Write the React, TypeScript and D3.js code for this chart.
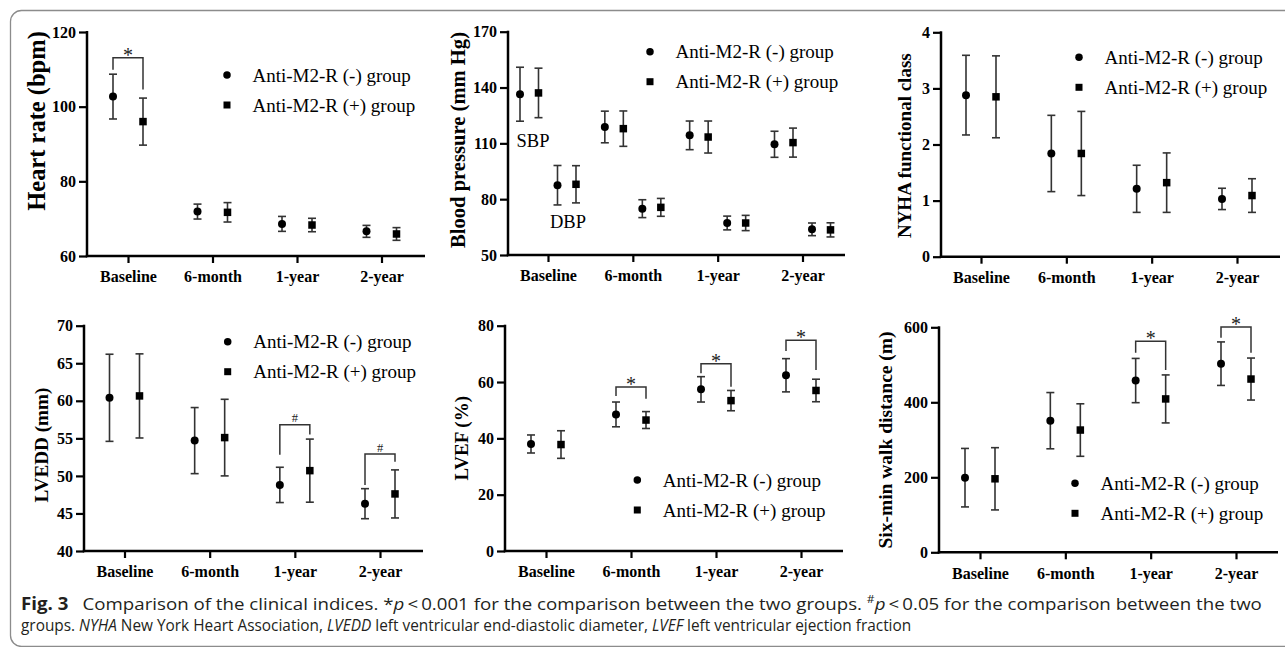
import React, { useEffect, useRef } from 'react'
import * as d3 from 'd3'

const categories = ['Baseline', '6-month', '1-year', '2-year']
const groupNames = ['Anti-M2-R (-) group', 'Anti-M2-R (+) group']

// heart rate (bpm)
const hrNeg = [102.7, 71.9, 68.6, 66.6]
const hrNegSd = [6.0, 2.0, 2.0, 1.6]
const hrPos = [96.0, 71.7, 68.3, 65.9]
const hrPosSd = [6.3, 2.6, 1.8, 1.7]
const hrTicks = [60, 80, 100, 120]

// blood pressure (mm Hg)
const sbpNeg = [136.4, 118.8, 114.3, 109.5]
const sbpNegSd = [14.5, 8.5, 7.7, 7.0]
const sbpPos = [137.1, 117.9, 113.4, 110.4]
const sbpPosSd = [13.3, 9.5, 8.6, 7.8]
const dbpNeg = [87.5, 74.9, 67.2, 63.8]
const dbpNegSd = [10.6, 4.8, 3.7, 3.4]
const dbpPos = [88.0, 75.6, 67.2, 63.5]
const dbpPosSd = [10.0, 4.8, 4.1, 3.8]
const bpTicks = [50, 80, 110, 140, 170]

// NYHA class
const nyhaNeg = [2.88, 1.84, 1.21, 1.03]
const nyhaNegSd = [0.71, 0.68, 0.42, 0.19]
const nyhaPos = [2.85, 1.84, 1.32, 1.09]
const nyhaPosSd = [0.73, 0.75, 0.53, 0.3]
const nyhaTicks = [0, 1, 2, 3, 4]

// LVEDD (mm)
const lveddNeg = [60.4, 54.7, 48.8, 46.3]
const lveddNegSd = [5.8, 4.4, 2.35, 2.0]
const lveddPos = [60.65, 55.1, 50.7, 47.6]
const lveddPosSd = [5.6, 5.1, 4.2, 3.2]
const lveddTicks = [40, 45, 50, 55, 60, 65, 70]

// LVEF (%)
const lvefNeg = [38.0, 48.5, 57.4, 62.4]
const lvefNegSd = [3.2, 4.4, 4.5, 5.9]
const lvefPos = [37.8, 46.5, 53.4, 57.0]
const lvefPosSd = [4.9, 3.0, 3.6, 4.0]
const lvefTicks = [0, 20, 40, 60, 80]

// six-min walk distance (m)
const walkNeg = [199, 351, 458, 503]
const walkNegSd = [78, 75, 59, 58]
const walkPos = [196, 326, 409, 462]
const walkPosSd = [83, 70, 64, 56]
const walkTicks = [0, 200, 400, 600]

// significance brackets: level of bar, end of left leg, end of right leg
const hrMarks = [{ cat: 'Baseline', sign: '*', level: 113.1, left: 109.9, right: 104.6 }]
const lveddMarks = [
  { cat: '1-year', sign: '#', level: 56.8, left: 52.8, right: 55.5 },
  { cat: '2-year', sign: '#', level: 52.9, left: 48.8, right: 51.9 },
]
const lvefMarks = [
  { cat: '6-month', sign: '*', level: 58.2, left: 55.0, right: 54.1 },
  { cat: '1-year', sign: '*', level: 66.5, left: 63.1, right: 58.3 },
  { cat: '2-year', sign: '*', level: 74.8, left: 71.0, right: 64.3 },
]
const walkMarks = [
  { cat: '1-year', sign: '*', level: 563, left: 532, right: 486 },
  { cat: '2-year', sign: '*', level: 601, left: 572, right: 532 },
]

const SERIF = '"Liberation Serif", "Times New Roman", serif'

const panels = [
  {
    title: 'Heart rate (bpm)', ticks: hrTicks, marks: hrMarks,
    series: [
      { mean: hrNeg, sd: hrNegSd, shape: 'circle', dx: -15 },
      { mean: hrPos, sd: hrPosSd, shape: 'square', dx: 15 },
    ],
    box: { left: 87, right: 425, top: 32, bottom: 256, first: 128, last: 381.5 },
    titleAt: [36, 121, 24.5], legendAt: [227, 75],
  },
  {
    title: 'Blood pressure (mm Hg)', ticks: bpTicks, marks: [],
    series: [
      { mean: sbpNeg, sd: sbpNegSd, shape: 'circle', dx: -28 },
      { mean: sbpPos, sd: sbpPosSd, shape: 'square', dx: -9.5 },
      { mean: dbpNeg, sd: dbpNegSd, shape: 'circle', dx: 9.5 },
      { mean: dbpPos, sd: dbpPosSd, shape: 'square', dx: 28 },
    ],
    box: { left: 508, right: 845, top: 31.7, bottom: 255, first: 548, last: 802.5 },
    titleAt: [458, 140, 20.6], legendAt: [650, 51.7],
    notes: [
      { text: 'SBP', x: 516.5, y: 146.7 },
      { text: 'DBP', x: 550, y: 228.3 },
    ],
  },
  {
    title: 'NYHA functional class', ticks: nyhaTicks, marks: [],
    series: [
      { mean: nyhaNeg, sd: nyhaNegSd, shape: 'circle', dx: -15 },
      { mean: nyhaPos, sd: nyhaPosSd, shape: 'square', dx: 15 },
    ],
    box: { left: 941, right: 1280, top: 32.3, bottom: 256.7, first: 981, last: 1237 },
    titleAt: [904, 145.7, 19], legendAt: [1079, 57.3],
  },
  {
    title: 'LVEDD (mm)', ticks: lveddTicks, marks: lveddMarks,
    series: [
      { mean: lveddNeg, sd: lveddNegSd, shape: 'circle', dx: -15 },
      { mean: lveddPos, sd: lveddPosSd, shape: 'square', dx: 15 },
    ],
    box: { left: 84, right: 423, top: 325.7, bottom: 551, first: 124.5, last: 380 },
    titleAt: [41.5, 445, 19.2], legendAt: [227.7, 341.7],
  },
  {
    title: 'LVEF (%)', ticks: lvefTicks, marks: lvefMarks,
    series: [
      { mean: lvefNeg, sd: lvefNegSd, shape: 'circle', dx: -15 },
      { mean: lvefPos, sd: lvefPosSd, shape: 'square', dx: 15 },
    ],
    box: { left: 505, right: 843, top: 325.7, bottom: 551, first: 546, last: 801 },
    titleAt: [461.5, 438.3, 19], legendAt: [637.3, 480],
  },
  {
    title: 'Six-min walk distance (m)', ticks: walkTicks, marks: walkMarks,
    series: [
      { mean: walkNeg, sd: walkNegSd, shape: 'circle', dx: -15 },
      { mean: walkPos, sd: walkPosSd, shape: 'square', dx: 15 },
    ],
    box: { left: 939, right: 1278, top: 327.3, bottom: 552.3, first: 980, last: 1236 },
    titleAt: [885.5, 440, 19.5], legendAt: [1075, 483.3],
  },
]

function drawMarker(g, shape, cx, cy, size) {
  if (shape === 'circle') {
    g.append('circle').attr('cx', cx).attr('cy', cy).attr('r', size / 2).attr('fill', '#000')
  } else {
    g.append('rect')
      .attr('x', cx - size / 2)
      .attr('y', cy - size / 2)
      .attr('width', size)
      .attr('height', size)
      .attr('fill', '#000')
  }
}

function drawPanel(svg, p) {
  const { box } = p
  const y = d3
    .scaleLinear()
    .domain([p.ticks[0], p.ticks[p.ticks.length - 1]])
    .range([box.bottom, box.top])
  const x = d3.scalePoint().domain(categories).range([box.first, box.last])
  const g = svg.append('g')

  // y axis ticks + labels
  const ya = g
    .append('g')
    .attr('transform', `translate(${box.left},0)`)
    .call(
      d3.axisLeft(y).tickValues(p.ticks).tickFormat(d3.format('d')).tickSize(8).tickPadding(3).tickSizeOuter(0)
    )
  ya.select('.domain').remove()
  ya.attr('font-family', SERIF).attr('font-size', 16).attr('font-weight', 'bold')
  ya.selectAll('line').attr('stroke', '#000').attr('stroke-width', 2.2)

  // x axis ticks + labels
  const xa = g
    .append('g')
    .attr('transform', `translate(0,${box.bottom})`)
    .call(d3.axisBottom(x).tickSize(7).tickPadding(8).tickSizeOuter(0))
  xa.select('.domain').remove()
  xa.attr('font-family', SERIF).attr('font-size', 16).attr('font-weight', 'bold')
  xa.selectAll('line').attr('stroke', '#000').attr('stroke-width', 2.2)

  // axis lines
  g.append('line')
    .attr('x1', box.left).attr('x2', box.left)
    .attr('y1', box.top - 1).attr('y2', box.bottom + 1.2)
    .attr('stroke', '#000').attr('stroke-width', 2.5)
  g.append('line')
    .attr('x1', box.left - 1.2).attr('x2', box.right)
    .attr('y1', box.bottom).attr('y2', box.bottom)
    .attr('stroke', '#000').attr('stroke-width', 2.5)

  // axis title
  const [tx, ty, ts] = p.titleAt
  g.append('text')
    .attr('transform', `translate(${tx},${ty}) rotate(-90)`)
    .attr('text-anchor', 'middle')
    .attr('dominant-baseline', 'central')
    .attr('font-family', SERIF)
    .attr('font-weight', 'bold')
    .attr('font-size', ts)
    .text(p.title)

  // error bars and points
  p.series.forEach((s) => {
    categories.forEach((c, i) => {
      const cx = x(c) + s.dx
      const hi = y(s.mean[i] + s.sd[i])
      const lo = y(s.mean[i] - s.sd[i])
      g.append('line')
        .attr('x1', cx).attr('x2', cx).attr('y1', hi).attr('y2', lo)
        .attr('stroke', '#333').attr('stroke-width', 1.6)
      ;[hi, lo].forEach((yy) => {
        g.append('line')
          .attr('x1', cx - 4).attr('x2', cx + 4).attr('y1', yy).attr('y2', yy)
          .attr('stroke', '#333').attr('stroke-width', 1.6)
      })
      drawMarker(g, s.shape, cx, y(s.mean[i]), s.shape === 'circle' ? 8 : 7.5)
    })
  })

  // significance brackets
  p.marks.forEach((m) => {
    const xl = x(m.cat) - 15
    const xr = x(m.cat) + 15
    const yl = y(m.level)
    g.append('path')
      .attr('d', `M${xl},${y(m.left)}V${yl}H${xr}V${y(m.right)}`)
      .attr('fill', 'none')
      .attr('stroke', '#333')
      .attr('stroke-width', 1.5)
    g.append('text')
      .attr('x', (xl + xr) / 2)
      .attr('y', m.sign === '*' ? yl + 4 : yl - 2.5)
      .attr('text-anchor', 'middle')
      .attr('font-family', SERIF)
      .attr('font-size', m.sign === '*' ? 20 : 12.5)
      .attr('fill', '#222')
      .text(m.sign)
  })

  // legend
  const [lx, ly] = p.legendAt
  groupNames.forEach((name, i) => {
    drawMarker(g, i === 0 ? 'circle' : 'square', lx, ly + i * 30, i === 0 ? 7.5 : 7)
    g.append('text')
      .attr('x', lx + 25.5)
      .attr('y', ly + i * 30)
      .attr('dominant-baseline', 'central')
      .attr('font-family', SERIF)
      .attr('font-size', 19)
      .text(name)
  })

  ;(p.notes || []).forEach((n) => {
    g.append('text')
      .attr('x', n.x).attr('y', n.y)
      .attr('font-family', SERIF)
      .attr('font-size', 18.5)
      .text(n.text)
  })
}

// squeeze a caption line horizontally so it spans the same width as the print
function fitLine(sel, x, y, width) {
  const len = sel.node().getComputedTextLength()
  sel.attr('transform', `translate(${x},${y}) scale(${width / len},1)`)
}

function drawCaption(svg) {
  const font = '"Open Sans", "Noto Sans", sans-serif'
  const l1 = svg
    .append('text')
    .attr('font-family', font)
    .attr('font-size', 17)
    .attr('fill', '#231f20')
  l1.append('tspan').attr('font-weight', 'bold').text('Fig. 3')
  l1.append('tspan').text('\u2002 Comparison of the clinical indices. *')
  l1.append('tspan').attr('font-style', 'italic').text('p')
  l1.append('tspan').text('\u2009<\u20090.001 for the comparison between the two groups. ')
  l1.append('tspan').attr('font-size', 11).attr('baseline-shift', 'super').text('#')
  l1.append('tspan').attr('font-style', 'italic').text('p')
  l1.append('tspan').text('\u2009<\u20090.05 for the comparison between the two')
  fitLine(l1, 21, 609.5, 1241)

  const l2 = svg
    .append('text')
    .attr('font-family', font)
    .attr('font-size', 17)
    .attr('fill', '#231f20')
  l2.append('tspan').text('groups. ')
  l2.append('tspan').attr('font-style', 'italic').text('NYHA')
  l2.append('tspan').text(' New York Heart Association, ')
  l2.append('tspan').attr('font-style', 'italic').text('LVEDD')
  l2.append('tspan').text(' left ventricular end-diastolic diameter, ')
  l2.append('tspan').attr('font-style', 'italic').text('LVEF')
  l2.append('tspan').text(' left ventricular ejection fraction')
  fitLine(l2, 21, 631, 891)
}

export default function App() {
  const ref = useRef(null)

  useEffect(() => {
    const svg = d3.select(ref.current)
    svg.selectAll('*').remove()

    svg
      .append('rect')
      .attr('x', 10.5)
      .attr('y', 10.5)
      .attr('width', 1300)
      .attr('height', 636)
      .attr('rx', 11)
      .attr('fill', 'none')
      .attr('stroke', '#8c8c8c')
      .attr('stroke-width', 1.3)

    panels.forEach((p) => drawPanel(svg, p))
    drawCaption(svg)
  }, [])

  return (
    <svg
      ref={ref}
      width={1285}
      height={647}
      style={{ position: 'absolute', left: 0, top: 0, background: '#fff' }}
    />
  )
}
